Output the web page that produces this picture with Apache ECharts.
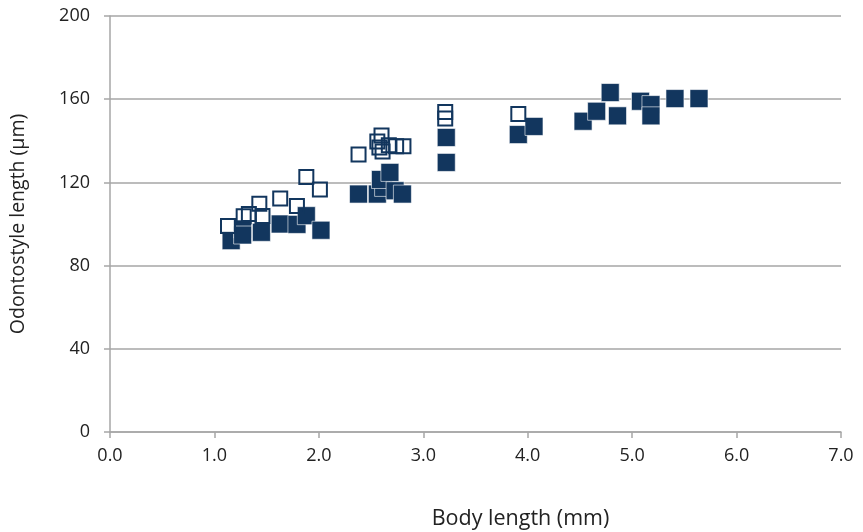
<!DOCTYPE html>
<html>
<head>
<meta charset="utf-8">
<script src="https://cdn.jsdelivr.net/npm/echarts@6/dist/echarts.min.js"></script>
<style>html,body{margin:0;padding:0;background:#fff;}#chart{width:863px;height:532px;}</style>
</head>
<body>
<div id="chart"></div>
<script>
// Filled squares: [body length (mm), odontostyle length (µm)]
const filledX = [1.16, 1.27, 1.27, 1.45, 1.63, 1.79, 1.88, 2.02, 2.38, 2.56, 2.62, 2.59, 2.68, 2.73, 2.80, 3.22, 3.22, 3.91, 4.06, 4.53, 4.66, 4.79, 4.86, 5.08, 5.18, 5.18, 5.41, 5.64];
const filledY = [92, 97.6, 94.7, 96, 100, 99.8, 104, 97, 114.4, 114.4, 117.6, 121.4, 124.8, 116, 114.4, 141.6, 129.6, 143, 146.9, 149.4, 154.2, 163.2, 152, 159, 157.4, 152, 160.3, 160.3];
// Open squares
const openX = [1.13, 1.28, 1.33, 1.43, 1.46, 1.63, 1.79, 1.88, 2.01, 2.38, 2.56, 2.60, 2.58, 2.61, 2.67, 2.74, 2.81, 3.21, 3.21, 3.91];
const openY = [99, 103.7, 104.8, 109.7, 103.8, 112.3, 108.6, 122.6, 116.6, 133.4, 139.7, 142.5, 136.8, 134.9, 137.9, 137.4, 137.4, 153.9, 150.7, 152.9];
const xTicks = [0, 1, 2, 3, 4, 5, 6, 7];
const yTicks = [0, 40, 80, 120, 160, 200];

const navy = '#12365E';
const fontFam = '"Open Sans", "Noto Sans", sans-serif';
const filledData = filledX.map((x, i) => [x, filledY[i]]);
const openData = openX.map((x, i) => [x, openY[i]]);

const chart = echarts.init(document.getElementById('chart'));
chart.setOption({
  animation: false,
  grid: { left: 110, right: 22, top: 16, bottom: 100, containLabel: false, outerBoundsMode: 'none' },
  xAxis: {
    type: 'value', min: xTicks[0], max: xTicks[xTicks.length - 1], interval: 1,
    name: 'Body length (mm)', nameLocation: 'middle', nameGap: 76,
    nameTextStyle: { fontFamily: fontFam, fontSize: 21.5, color: '#222', padding: [0, 0, 0, 90] },
    axisLine: { show: true, onZero: false, lineStyle: { color: '#A6A6A6', width: 1.5 } },
    axisTick: { show: true, length: 6, lineStyle: { color: '#A6A6A6', width: 1.5 } },
    axisLabel: { margin: 15, fontFamily: fontFam, fontSize: 18, color: '#222', formatter: v => v.toFixed(1) },
    splitLine: { show: false }
  },
  yAxis: {
    type: 'value', min: yTicks[0], max: yTicks[yTicks.length - 1], interval: 40,
    name: 'Odontostyle length (µm)', nameLocation: 'middle', nameGap: 82,
    nameTextStyle: { fontFamily: fontFam, fontSize: 19.5, color: '#222' },
    axisLine: { show: true, onZero: false, lineStyle: { color: '#A6A6A6', width: 1.5 } },
    axisTick: { show: true, length: 6, lineStyle: { color: '#A6A6A6', width: 1.5 } },
    axisLabel: { margin: 20, fontFamily: fontFam, fontSize: 18, color: '#222' },
    splitLine: { show: true, lineStyle: { color: '#A6A6A6', width: 1.5 } }
  },
  series: [
    {
      type: 'scatter', data: filledData, symbol: 'rect', symbolSize: 18,
      itemStyle: { color: navy, borderColor: '#fff', borderWidth: 0.6, opacity: 1 },
      z: 2
    },
    {
      type: 'scatter', data: openData, symbol: 'rect', symbolSize: 14,
      itemStyle: { color: 'rgba(255,255,255,0)', borderColor: navy, borderWidth: 2, opacity: 1 },
      z: 3
    }
  ]
});
</script>
</body>
</html>
